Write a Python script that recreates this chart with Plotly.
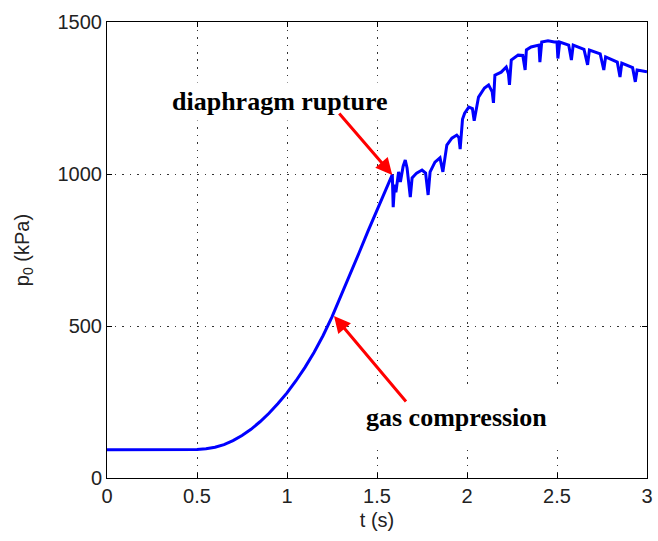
import plotly.graph_objects as go

# time (s)
t = [0.0, 0.1, 0.2, 0.3, 0.4, 0.5, 0.55, 0.6, 0.65, 0.7, 0.75, 0.8, 0.85, 0.9,
     0.95, 1.0, 1.05, 1.1, 1.15, 1.2, 1.25, 1.3, 1.35, 1.4, 1.45, 1.5, 1.55, 1.585,
     1.59, 1.598, 1.605, 1.62, 1.63, 1.645, 1.657, 1.667, 1.685, 1.695, 1.72, 1.75,
     1.77, 1.784, 1.795, 1.822, 1.85, 1.866, 1.888, 1.916, 1.943, 1.955, 1.962,
     1.975, 1.987, 2.01, 2.03, 2.04, 2.064, 2.097, 2.12, 2.14, 2.147, 2.155, 2.19,
     2.218, 2.23, 2.236, 2.246, 2.284, 2.31, 2.323, 2.33, 2.356, 2.40, 2.405, 2.415,
     2.45, 2.485, 2.50, 2.505, 2.515, 2.565, 2.58, 2.59, 2.65, 2.67, 2.68, 2.74,
     2.76, 2.77, 2.835, 2.85, 2.86, 2.92, 2.935, 2.945, 3.0]

# stagnation pressure p0 (kPa)
p0 = [93, 93, 93, 93, 93, 94, 96, 101, 110, 123, 140, 160, 185, 213,
      245, 280, 320, 364, 413, 468, 530, 598, 668, 740, 812, 882, 951, 998,
      891, 965, 940, 1007, 974, 1025, 1046, 1020, 924, 987, 1003, 1013,
      1003, 931, 1007, 1039, 1053, 1007, 1095, 1118, 1128, 1120, 1082,
      1180, 1200, 1220, 1215, 1175, 1253, 1283, 1293, 1270, 1234, 1325, 1335,
      1352, 1330, 1293, 1375, 1391, 1390, 1342, 1408, 1418, 1424, 1368, 1434,
      1438, 1434, 1434, 1380, 1434, 1424, 1375, 1424, 1410, 1359, 1408, 1395,
      1342, 1385, 1368, 1319, 1365, 1350, 1303, 1342, 1336]

x_ticks = [0, 0.5, 1, 1.5, 2, 2.5, 3]
x_tick_labels = ["0", "0.5", "1", "1.5", "2", "2.5", "3"]
y_ticks = [0, 500, 1000, 1500]
y_tick_labels = ["0", "500", "1000", "1500"]

fig = go.Figure()
fig.add_trace(go.Scatter(x=t, y=p0, mode="lines",
                         line=dict(color="#0000ff", width=3),
                         showlegend=False))

tick_font = dict(family="Liberation Sans, Arial, sans-serif", size=20, color="#222222")
axis_common = dict(
    showgrid=True, gridcolor="#333333", gridwidth=1, griddash="1.5px,6px",
    showline=True, linecolor="black", linewidth=1, mirror="allticks",
    ticks="inside", ticklen=5, tickcolor="black", tickfont=tick_font,
    zeroline=False, ticklabeloverflow="allow",
)

fig.update_xaxes(range=[0, 3], tickvals=x_ticks, ticktext=x_tick_labels,
                 title=dict(text="t (s)", font=tick_font, standoff=6), **axis_common)
fig.update_yaxes(range=[0, 1500], tickvals=y_ticks, ticktext=y_tick_labels,
                 title=dict(text="p<sub>0</sub> (kPa)", font=tick_font, standoff=22),
                 **axis_common)

label_font = dict(family="Liberation Serif, Times New Roman, serif", size=26, color="black")
fig.add_annotation(x=0.961, y=1240, xref="x", yref="y", text="<b>diaphragm rupture</b>",
                   showarrow=False, font=label_font, bgcolor="white", borderpad=4)
fig.add_annotation(x=1.943, y=200, xref="x", yref="y", text="<b>gas compression</b>",
                   showarrow=False, font=label_font, bgcolor="white", borderpad=14)
fig.add_annotation(x=1.585, y=997, ax=1.283, ay=1204, xref="x", yref="y",
                   axref="x", ayref="y", text="", showarrow=True,
                   arrowcolor="#ff0000", arrowwidth=3, arrowhead=2, arrowsize=1.1)
fig.add_annotation(x=1.261, y=533, ax=1.668, ay=247, xref="x", yref="y",
                   axref="x", ayref="y", text="", showarrow=True,
                   arrowcolor="#ff0000", arrowwidth=3, arrowhead=2, arrowsize=1.1)

fig.update_layout(width=658, height=541,
                  margin=dict(l=107, r=5, t=22, b=63),
                  plot_bgcolor="white", paper_bgcolor="white")

fig.write_html("out.html")
